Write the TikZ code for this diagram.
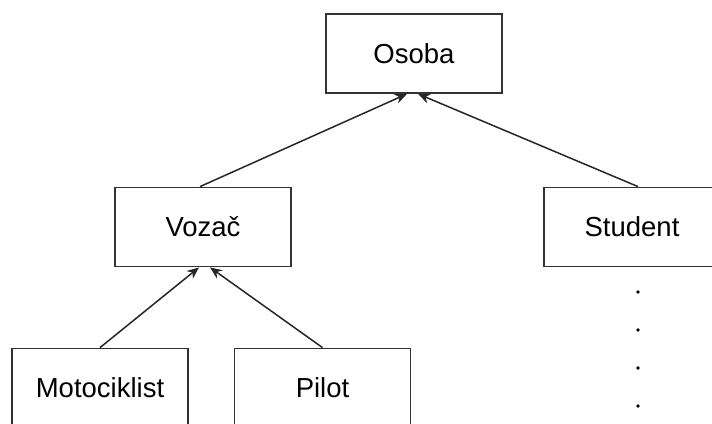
\documentclass[tikz,border=0pt]{standalone}
\usepackage{fontspec}
\setmainfont{Liberation Sans}
\usetikzlibrary{arrows.meta}
\begin{document}
\begin{tikzpicture}[x=1pt,y=-1pt,
  cls/.style={draw=black!80,line width=1.8pt,minimum width=176pt,minimum height=79pt,inner sep=0pt,font=\fontsize{27.5}{33}\selectfont},
  inh/.style={draw=black!85,line width=1.5pt,-{Stealth[length=12pt,width=10pt]}},
  dotmark/.style={fill=black,circle,inner sep=0pt,minimum size=3.8pt}]
\useasboundingbox (0,0) rectangle (712,423);
\clip (0,0) rectangle (712,423);
\node[cls] (oso) at (414,53.5) {Osoba};
\node[cls] (voz) at (203,227) {Vozač};
\node[cls] (stu) at (632,227) {Student};
\node[cls] (mot) at (100,388) {Motociklist};
\node[cls] (pil) at (322.5,388) {Pilot};
\draw[inh] ([xshift=-3pt]voz.north) -- ([xshift=-7pt]oso.south);
\draw[inh] ([xshift=6pt]stu.north) -- ([xshift=4pt]oso.south);
\draw[inh] (mot.north) -- ([xshift=-4pt]voz.south);
\draw[inh] (pil.north) -- ([xshift=7pt]voz.south);
\node[dotmark] (d1) at (638,292) {};
\node[dotmark] (d2) at (638,330) {};
\node[dotmark] (d3) at (638,368) {};
\node[dotmark] (d4) at (638,406) {};
\end{tikzpicture}
\end{document}
